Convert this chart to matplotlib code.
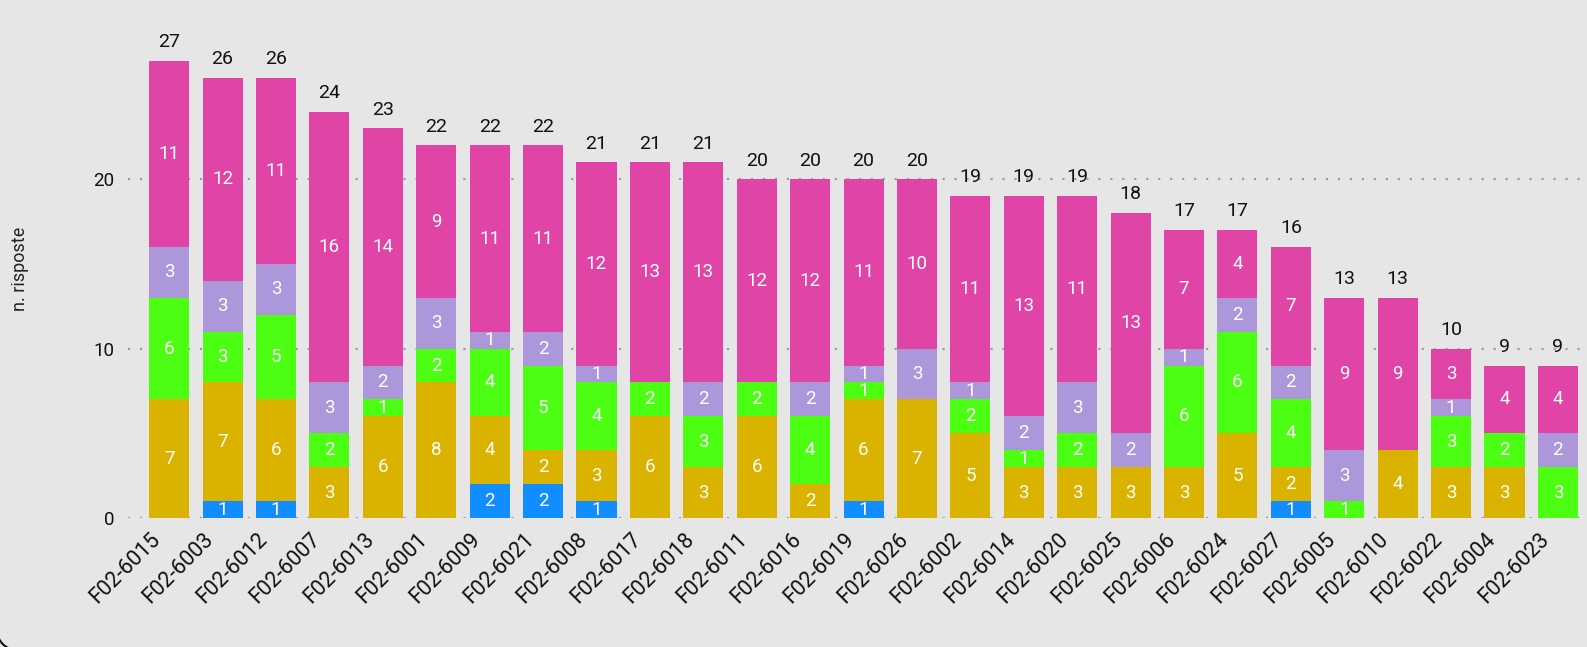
import matplotlib
matplotlib.use("Agg")
import matplotlib.pyplot as plt
import matplotlib.transforms as mtransforms
from matplotlib.patches import Arc
import numpy as np

plt.rcParams['font.family'] = ['Roboto', 'DejaVu Sans']

codes = ['F02-6015', 'F02-6003', 'F02-6012', 'F02-6007', 'F02-6013', 'F02-6001',
         'F02-6009', 'F02-6021', 'F02-6008', 'F02-6017', 'F02-6018', 'F02-6011',
         'F02-6016', 'F02-6019', 'F02-6026', 'F02-6002', 'F02-6014', 'F02-6020',
         'F02-6025', 'F02-6006', 'F02-6024', 'F02-6027', 'F02-6005', 'F02-6010',
         'F02-6022', 'F02-6004', 'F02-6023']

# stacked from bottom to top
blue = [0, 1, 1, 0, 0, 0, 2, 2, 1, 0, 0, 0, 0, 1, 0, 0, 0, 0, 0, 0, 0, 1, 0, 0, 0, 0, 0]
gold = [7, 7, 6, 3, 6, 8, 4, 2, 3, 6, 3, 6, 2, 6, 7, 5, 3, 3, 3, 3, 5, 2, 0, 4, 3, 3, 0]
green = [6, 3, 5, 2, 1, 2, 4, 5, 4, 2, 3, 2, 4, 1, 0, 2, 1, 2, 0, 6, 6, 4, 1, 0, 3, 2, 3]
lavender = [3, 3, 3, 3, 2, 3, 1, 2, 1, 0, 2, 0, 2, 1, 3, 1, 2, 3, 2, 1, 2, 2, 3, 0, 1, 0, 2]
magenta = [11, 12, 11, 16, 14, 9, 11, 11, 12, 13, 13, 12, 12, 11, 10, 11, 13, 11, 13, 7, 4, 7, 9, 9, 3, 4, 4]

series = [blue, gold, green, lavender, magenta]
colors = ['#118DFF', '#D9B300', '#4CFF12', '#AD97DB', '#E044A7']

bg = '#E6E6E6'
fig = plt.figure(figsize=(15.87, 6.47), dpi=100, facecolor=bg)
ax = fig.add_axes([0.0807, 0.1994, 0.9161, 0.7696])
ax.set_facecolor(bg)

x = np.arange(len(codes))
bottom = np.zeros(len(codes))
for vals, col in zip(series, colors):
    vals = np.array(vals)
    ax.bar(x, vals, 0.75, bottom=bottom, color=col, zorder=3)
    for xi, v, b in zip(x, vals, bottom):
        if v > 0:
            ax.text(xi, b + v / 2, str(v), ha='center', va='center',
                    color='white', fontsize=13.5, zorder=4)
    bottom = bottom + vals

for xi, t in zip(x, bottom):
    ax.annotate(str(int(t)), (xi, t), xytext=(0, 7), textcoords='offset points',
                ha='center', va='bottom', fontsize=14, color='#111111')

ax.set_xlim(-0.77, 26.45)
ax.set_ylim(0, 29.4)
ax.set_yticks([0, 10, 20])
for yv in [0, 10, 20]:
    ax.axhline(yv, color='#999999', lw=1.5, ls=(0, (1, 4.75)), zorder=1,
               dash_capstyle='butt')
ax.tick_params(axis='both', length=0, labelsize=13.5, colors='#111111')
ax.tick_params(axis='y', pad=10)
ax.set_xticks(x)
ax.set_xticklabels(codes, rotation=45, ha='right', va='center',
                   rotation_mode='anchor', fontsize=15.5)
ax.tick_params(axis='x', pad=13)
shift = mtransforms.ScaledTranslation(-12 / 100, 0, fig.dpi_scale_trans)
for lbl in ax.get_xticklabels():
    lbl.set_transform(lbl.get_transform() + shift)
for s in ax.spines.values():
    s.set_visible(False)
ax.set_ylabel('n. risposte', fontsize=13, color='#222222')
ax.yaxis.set_label_coords(-0.068, 0.5)

fig.add_artist(Arc((17, 17), 40, 40, theta1=180, theta2=270, transform=None,
                   color='#111111', lw=1.5))

fig.savefig('out.png', dpi=100, facecolor=bg)
